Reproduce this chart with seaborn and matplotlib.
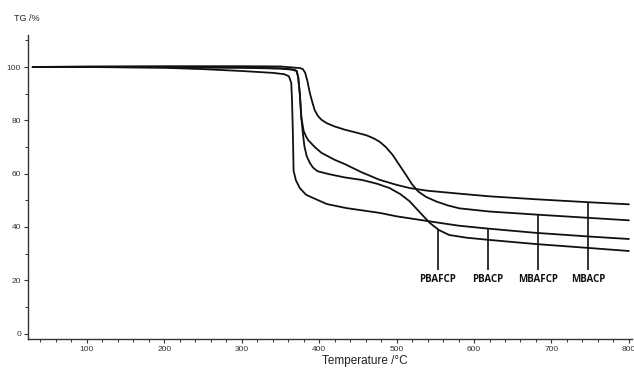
import numpy as np
import pandas as pd
import matplotlib
matplotlib.use("Agg")
import matplotlib.pyplot as plt
from matplotlib.ticker import MultipleLocator
import seaborn as sns

# ---- data (temperature in °C, mass in %) ----
mbacp_T = [30, 100, 200, 300, 350, 362, 368, 371, 373, 375, 377, 380, 383, 386, 395, 403,
           420, 433, 455, 478, 500, 517, 540, 581, 620, 680, 747, 800]
mbacp_v = [100, 100, 100, 99.8, 99.5, 99.2, 99.0, 98.5, 96, 90, 81, 76, 74, 72.5, 69.8, 67.8,
           65.2, 63.6, 60.5, 57.7, 55.8, 54.6, 53.6, 52.5, 51.5, 50.4, 49.3, 48.5]

mbafcp_T = [30, 100, 200, 300, 350, 375, 379, 382, 385, 388, 391, 394, 398, 403, 410, 420,
            433, 448, 461, 470, 478, 486, 495, 503, 512, 520, 528, 538, 551, 566, 581, 620,
            683, 750, 800]
mbafcp_v = [100, 100.2, 100.3, 100.3, 100.2, 99.6, 99.2, 97.8, 94.5, 90.2, 87, 84, 81.8, 80.2, 78.9, 77.7,
            76.5, 75.4, 74.4, 73.3, 72, 70, 67, 63.5, 59.6, 56, 53.3, 51.3, 49.6, 48.1, 47, 45.8,
            44.6, 43.4, 42.5]

pbafcp_T = [30, 100, 200, 300, 350, 365, 371, 373, 375, 377, 379, 381, 384, 388, 392, 398,
            413, 433, 456, 475, 491, 505, 517, 530, 543, 555, 568, 590, 618, 680, 750, 800]
pbafcp_v = [100, 100, 99.9, 99.7, 99.4, 99, 98.5, 96, 90, 81, 75, 70.2, 66.5, 64, 62.3, 60.9,
            59.8, 58.6, 57.6, 56.2, 54.6, 52.3, 49.6, 45.5, 41.5, 38.8, 37, 36, 35.2, 33.6, 32.1, 31]

pbacp_T = [30, 100, 200, 250, 300, 340, 355, 361, 364, 365, 366, 367, 370, 375, 383, 392,
           410, 435, 478, 500, 543, 580, 618, 680, 750, 800]
pbacp_v = [100, 100, 99.7, 99.2, 98.5, 97.8, 97.3, 96.5, 94, 87, 76, 61, 57.5, 54.6, 52.1, 50.9,
           48.6, 47.1, 45.3, 44, 42.1, 40.5, 39.4, 37.8, 36.4, 35.5]

samples = ["PBAFCP", "PBACP", "MBAFCP", "MBACP"]
label_T = [553, 618, 683, 747]          # where each label's leader line sits
leader_bottom = 24                       # % level where leader lines end
label_y = 20.3                           # % level of label text

x_ticks = [100, 200, 300, 400, 500, 600, 700, 800]
y_ticks = [0, 20, 40, 60, 80, 100]

curves = {
    "PBAFCP": (pbafcp_T, pbafcp_v),
    "PBACP": (pbacp_T, pbacp_v),
    "MBAFCP": (mbafcp_T, mbafcp_v),
    "MBACP": (mbacp_T, mbacp_v),
}

df = pd.concat(
    [pd.DataFrame({"T": t, "TG": v, "sample": name}) for name, (t, v) in curves.items()],
    ignore_index=True,
)

# ---- style ----
sns.set_style("ticks")
plt.rcParams["font.family"] = ["Liberation Sans", "DejaVu Sans"]

fig = plt.figure(figsize=(6.34, 3.70), dpi=100)
ax = fig.add_axes([0.0442, 0.0838, 0.9526, 0.8216])

sns.lineplot(data=df, x="T", y="TG", hue="sample", estimator=None, sort=False,
             palette={s: "#111111" for s in samples}, linewidth=1.3, legend=False, ax=ax)

# leader lines + labels
for name, tx in zip(samples, label_T):
    t, v = curves[name]
    top = float(np.interp(tx, t, v))
    ax.vlines(tx, leader_bottom, top, color="#111111", linewidth=1.2)
    ax.text(tx, label_y, name, ha="center", va="center", fontsize=7.0,
            fontweight="bold", family=["Open Sans", "DejaVu Sans"], color="#111111")

ax.set_xlim(24, 804)
ax.set_ylim(-2, 112)
ax.set_xticks(x_ticks)
ax.set_yticks(y_ticks)
ax.xaxis.set_minor_locator(MultipleLocator(20))
ax.yaxis.set_minor_locator(MultipleLocator(10))
ax.tick_params(which="major", direction="out", length=3, width=0.8, labelsize=6,
               colors="#333333", pad=2)
ax.tick_params(which="minor", direction="out", length=2, width=0.7, colors="#333333")
sns.despine(ax=ax)
for s in ["left", "bottom"]:
    ax.spines[s].set_color("#333333")
    ax.spines[s].set_linewidth(1.0)

ax.set_xlabel("Temperature /°C", fontsize=8.5, color="#222222")
ax.xaxis.set_label_coords(0.558, -0.052)
ax.set_ylabel("TG /%", fontsize=6.5, color="#222222", rotation=0, ha="center", va="center")
ax.yaxis.set_label_coords(-0.002, 1.053)

fig.savefig("out.png", dpi=100)
